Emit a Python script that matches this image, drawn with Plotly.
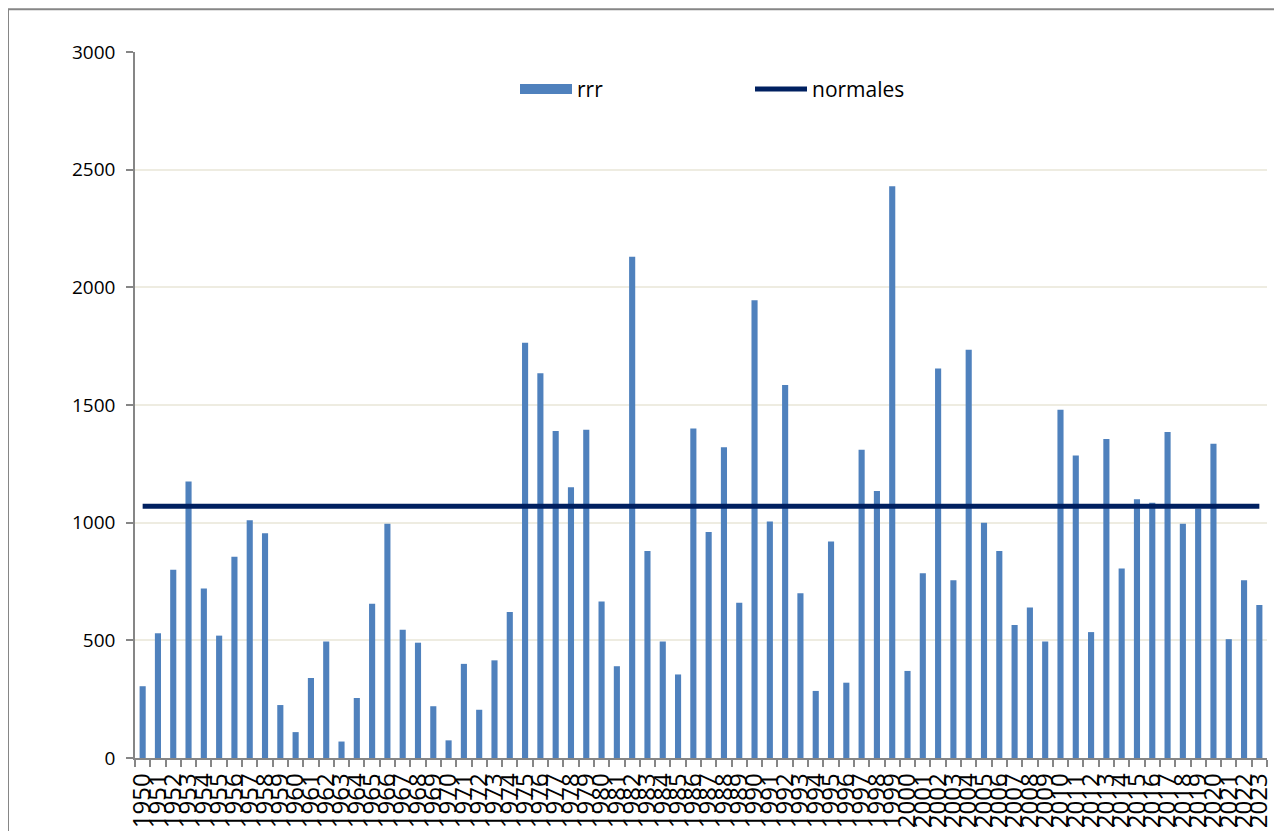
import plotly.graph_objects as go

years = [str(y) for y in range(1950, 2024)]
rrr = [305, 530, 800, 1175, 720, 520, 855, 1010, 955, 225,
       110, 340, 495, 70, 255, 655, 995, 545, 490, 220,
       75, 400, 205, 415, 620, 1765, 1635, 1390, 1150, 1395,
       665, 390, 2130, 880, 495, 355, 1400, 960, 1320, 660,
       1945, 1005, 1585, 700, 285, 920, 320, 1310, 1135, 2430,
       370, 785, 1655, 755, 1735, 1000, 880, 565, 640, 495,
       1480, 1285, 535, 1355, 805, 1100, 1085, 1385, 995, 1060,
       1335, 505, 755, 650]
normale_value = 1070
normales = [normale_value] * len(years)

BAR_COLOR = "#4F81BD"
LINE_COLOR = "#002060"
AXIS_COLOR = "#868686"
GRID_COLOR = "#EEECE1"
FONT = "Open Sans"

OFF = 8  # page body margin
W, H = 1282 - OFF, 831 - OFF
# plot area in screen pixels
PX0, PX1, PY0, PY1 = 135, 1267, 51.7, 758.3
L = PX0 - OFF
R = W - (PX1 - OFF)
T = PY0 - OFF
B = H - (PY1 - OFF)
pw = PX1 - PX0
ph = PY1 - PY0

def px_x(p):
    return (p - PX0) / pw

def px_y(p):
    return (PY1 - p) / ph

fig = go.Figure()
fig.add_trace(go.Bar(x=years, y=rrr, name="rrr", marker=dict(color=BAR_COLOR, line=dict(width=0)),
                     showlegend=False))
# legend-only swatch for the bars (wide rectangle like the original)
fig.add_trace(go.Scatter(x=[None], y=[None], mode="lines", name="rrr",
                         line=dict(color=BAR_COLOR, width=16)))
fig.add_trace(go.Scatter(x=years, y=normales, mode="lines", name="normales",
                         line=dict(color=LINE_COLOR, width=5)))

fig.update_layout(
    width=W, height=H, autosize=False,
    margin=dict(l=L, r=R, t=T, b=B, pad=0, autoexpand=False),
    paper_bgcolor="white", plot_bgcolor="white",
    font=dict(family=FONT, color="#000000"),
    bargap=0.6,
    legend=dict(orientation="h", x=px_x(515), xanchor="left", y=px_y(89), yanchor="middle",
                font=dict(size=21, family=FONT, color="#000000"),
                itemwidth=52, entrywidth=168, bgcolor="rgba(0,0,0,0)", traceorder="normal"),
    xaxis=dict(type="category", tickson="boundaries", ticks="outside", ticklen=7,
               tickcolor=AXIS_COLOR, tickwidth=1.5, showline=True, linecolor=AXIS_COLOR,
               linewidth=1.5, tickangle=-90, tickfont=dict(size=24, family=FONT),
               tickmode="array", tickvals=years, ticktext=years, automargin=False,
               ticklabelstandoff=4,
               showgrid=False, range=[-0.5, len(years) - 0.5]),
    yaxis=dict(range=[0, 3000], dtick=500, ticks="outside", ticklen=7, tickcolor=AXIS_COLOR,
               tickwidth=1.5, showline=True, linecolor=AXIS_COLOR, linewidth=1.5,
               gridcolor=GRID_COLOR, gridwidth=1.5, tickfont=dict(size=19, family=FONT),
               ticklabelstandoff=7,
               zeroline=False, automargin=False),
    shapes=[dict(type="rect", xref="paper", yref="paper",
                 x0=px_x(8), x1=px_x(1281), y0=px_y(845), y1=px_y(9),
                 line=dict(color=AXIS_COLOR, width=2), fillcolor="rgba(0,0,0,0)", layer="below")],
)

fig.write_html("out.html")
